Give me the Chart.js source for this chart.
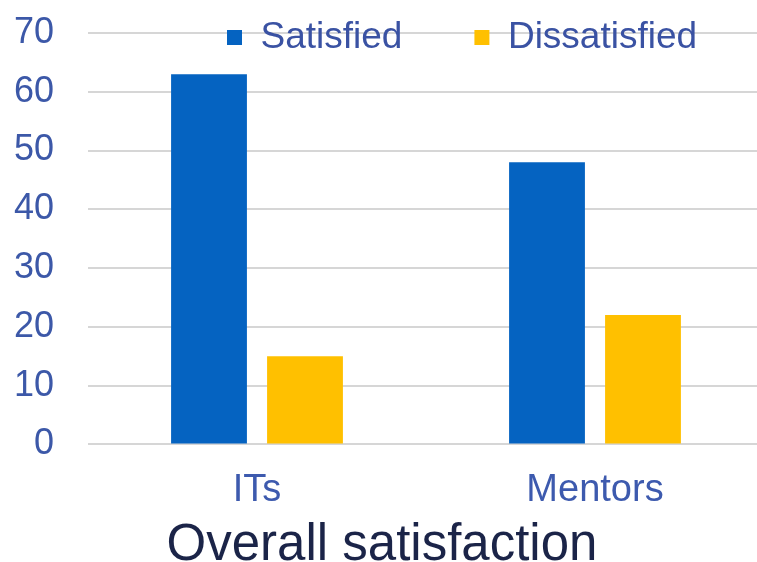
<!DOCTYPE html>
<html><head><meta charset="utf-8">
<script src="https://cdn.jsdelivr.net/npm/chart.js@4"></script>
<style>html,body{margin:0;padding:0;background:#fff;overflow:hidden}#wrap{width:757px;height:562px;position:relative;overflow:hidden}</style>
</head><body><div id="wrap"><canvas id="c" width="764" height="562"></canvas></div>
<script>
const categories = ['ITs', 'Mentors'];
const seriesNames = ['Satisfied', 'Dissatisfied'];
const satisfied = [63, 48];
const dissatisfied = [15, 22];
const yTickMin = 0, yTickMax = 70, yTickStep = 10;
const titleText = 'Overall satisfaction';

const FONT = "'Liberation Sans', Arial, sans-serif";
const LEGEND_FS = 37;

const legendPlace = {
  id: 'legendPlace',
  afterInit(chart) {
    const lg = chart.legend;
    const fit = lg.fit;
    lg.fit = function () { fit.call(this); this.height = 0; };
  },
  afterLayout(chart) {
    const lg = chart.legend;
    const pad = lg.options.labels.padding;
    const w = lg.right - lg.left;
    lg.left = 227 - pad;
    lg.right = lg.left + w;
    lg.top = 37.5 - pad - LEGEND_FS / 2;
    lg.bottom = lg.top + 2 * pad + 2 * LEGEND_FS;
  }
};

new Chart(document.getElementById('c'), {
  type: 'bar',
  data: {
    labels: categories,
    datasets: [
      { label: seriesNames[0], data: satisfied, backgroundColor: '#0563C1', borderWidth: 0,
        categoryPercentage: 0.568, barPercentage: 0.79 },
      { label: seriesNames[1], data: dissatisfied, backgroundColor: '#FFC000', borderWidth: 0,
        categoryPercentage: 0.568, barPercentage: 0.79 }
    ]
  },
  options: {
    responsive: false,
    animation: false,
    devicePixelRatio: 1,
    layout: { padding: { top: 33, right: 0, left: 0, bottom: 0 } },
    plugins: {
      tooltip: { enabled: false },
      legend: {
        position: 'top',
        align: 'start',
        labels: {
          boxWidth: 15, boxHeight: 15, padding: 72,
          color: '#3a52a3',
          font: { family: FONT, size: LEGEND_FS }
        }
      },
      title: {
        display: true,
        text: titleText,
        position: 'bottom',
        color: '#1b2448',
        font: { family: FONT, size: 51, weight: 'normal', lineHeight: 0.62 },
        padding: { top: 20, bottom: 0 }
      }
    },
    scales: {
      x: {
        afterFit(s) { s.paddingLeft = 0; s.paddingRight = 0; s.height = 66; },
        grid: { display: false, drawTicks: false },
        border: { display: false },
        ticks: { color: '#3d5aae', padding: 23, font: { family: FONT, size: 38 } }
      },
      y: {
        min: yTickMin, max: yTickMax,
        afterFit(s) { s.width = 88; s.paddingTop = 0; s.paddingBottom = 0; },
        grid: { color: '#d6d6d6', lineWidth: 2, drawTicks: false },
        border: { display: false },
        ticks: { stepSize: yTickStep, color: '#3c58a8', padding: 34, font: { family: FONT, size: 36 } }
      }
    }
  },
  plugins: [legendPlace]
});
</script>
</body></html>
